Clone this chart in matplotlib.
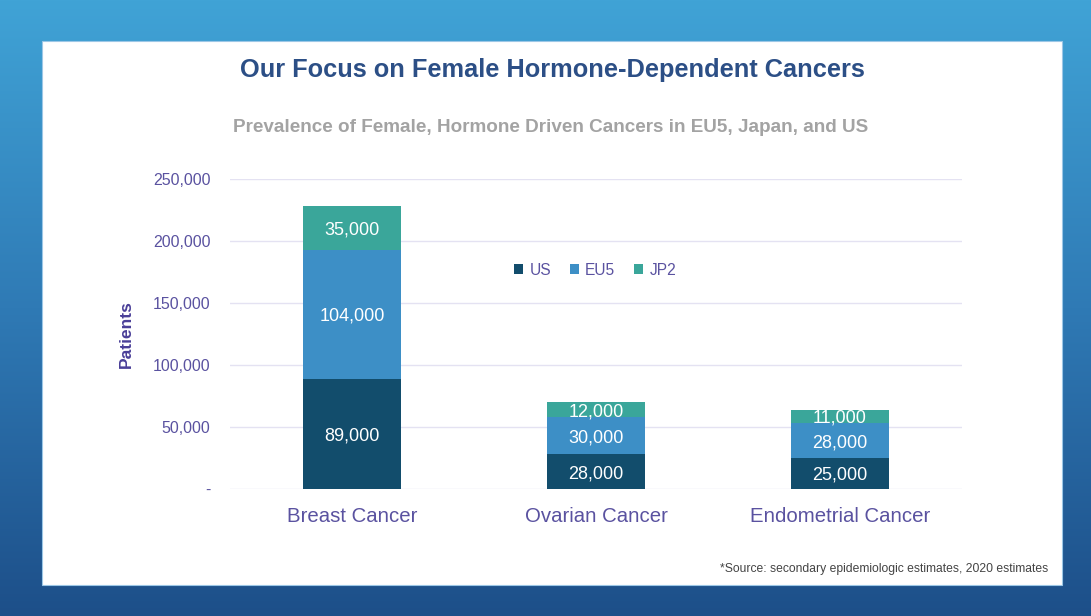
import matplotlib.pyplot as plt
import numpy as np
from matplotlib.patches import Rectangle
from matplotlib.ticker import FuncFormatter
from matplotlib.colors import LinearSegmentedColormap

plt.rcParams['font.family'] = ['Liberation Sans', 'DejaVu Sans']

# data
categories = ['Breast Cancer', 'Ovarian Cancer', 'Endometrial Cancer']
series = ['US', 'EU5', 'JP2']
us = [89000, 28000, 25000]
eu5 = [104000, 30000, 28000]
jp2 = [35000, 12000, 11000]
yticks = [0, 50000, 100000, 150000, 200000, 250000]

colors = ['#124d6c', '#3d8fc6', '#3aa69a']
tick_col = '#5a52a0'

fig = plt.figure(figsize=(10.91, 6.16), dpi=100)

# gradient background + white panel
bg = fig.add_axes([0, 0, 1, 1])
grad = np.linspace(0, 1, 256).reshape(-1, 1)
cmap = LinearSegmentedColormap.from_list('bg', ['#40a3d6', '#2f7ab5', '#1d4f89'])
bg.imshow(grad, aspect='auto', cmap=cmap, extent=[0, 1, 0, 1], origin='upper')
bg.add_patch(Rectangle((42/1091, 1-585/616), (1062-42)/1091, (585-41)/616,
                       facecolor='white', edgecolor='#9cc7e6', lw=0.8))
bg.set_xlim(0, 1)
bg.set_ylim(0, 1)
bg.axis('off')

fig.text(552/1091, 1-70/616, 'Our Focus on Female Hormone-Dependent Cancers',
         ha='center', va='center', fontsize=18.3, fontweight='bold', color='#2c4f86')
fig.text(551/1091, 1-127/616, 'Prevalence of Female, Hormone Driven Cancers in EU5, Japan, and US',
         ha='center', va='center', fontsize=13.6, fontweight='bold', color='#a3a3a3')
fig.text(1048/1091, 1-569/616, '*Source: secondary epidemiologic estimates, 2020 estimates',
         ha='right', va='center', fontsize=8.7, color='#444444')

ax = fig.add_axes([230/1091, 1-489/616, 732/1091, 310/616])
ax.set_facecolor('none')
x = np.arange(len(categories))
w = 0.40
bottom = np.zeros(len(categories))
for name, vals, c in zip(series, [us, eu5, jp2], colors):
    vals = np.array(vals)
    ax.bar(x, vals, w, bottom=bottom, color=c, label=name, zorder=3)
    for xi, b, v in zip(x, bottom, vals):
        ax.text(xi, b + v/2, f'{v:,}', ha='center', va='center_baseline',
                color='white', fontsize=13, zorder=4)
    bottom += vals

ax.set_xlim(-0.5, 2.5)
ax.set_ylim(0, 250000)
ax.set_yticks(yticks)
ax.yaxis.set_major_formatter(FuncFormatter(lambda v, p: '-' if v == 0 else f'{int(v):,}'))
ax.set_xticks(x)
ax.set_xticklabels(categories)
ax.tick_params(axis='y', length=0, pad=14, labelsize=11.5, labelcolor=tick_col)
ax.tick_params(axis='x', length=0, pad=13, labelsize=14.7, labelcolor=tick_col)
ax.grid(axis='y', color='#e4e2f2', lw=1, zorder=0)
for s in ax.spines.values():
    s.set_visible(False)
ax.set_ylabel('Patients', fontsize=12.5, fontweight='bold', color='#4a3f98', labelpad=14)

ax.legend(loc='center', bbox_to_anchor=(0.4986, 0.706), ncol=3, frameon=False,
          fontsize=11.2, handlelength=0.6, handleheight=0.6, handletextpad=0.4,
          columnspacing=1.2, labelcolor=tick_col)

fig.savefig('out.png', dpi=100)
